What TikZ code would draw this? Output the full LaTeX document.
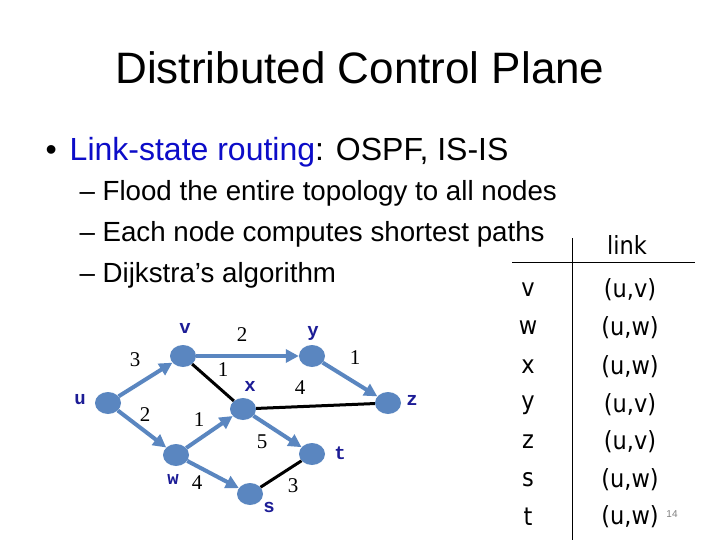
\documentclass[tikz,border=0pt]{standalone}
\usepackage{fontspec}
\setmainfont{Liberation Sans}
\newfontfamily\monof{Liberation Mono}
\newfontfamily\serf{Liberation Serif}
\newfontfamily\tabf{DejaVu Sans Condensed}
\usetikzlibrary{shapes.geometric,arrows.meta}
\definecolor{edgeblue}{HTML}{5A86C0}
\definecolor{labnavy}{HTML}{1C1C96}
\definecolor{linkblue}{HTML}{0C0CC8}
\begin{document}
\begin{tikzpicture}[x=1pt,y=-1pt,
  rnode/.style={ellipse,fill=edgeblue,minimum width=26pt,minimum height=22pt,inner sep=0pt},
  nlab/.style={font=\monof\bfseries\fontsize{19}{19}\selectfont,text=labnavy},
  wlab/.style={font=\serf\fontsize{21}{21}\selectfont},
  barc/.style={edgeblue,line width=4pt,-{Triangle[length=13pt,width=13pt]}},
  blk/.style={black,line width=3pt},
  tab/.style={font=\tabf\fontsize{25}{25}\selectfont},
  subitem/.style={anchor=base west,font=\fontsize{27.7}{27.7}\selectfont}]
\fill[white] (0,0) rectangle (720,540);
\useasboundingbox (0,0) rectangle (720,540);
% title and text
\node[font=\fontsize{44}{44}\selectfont] (title) at (360,68) {Distributed Control Plane};
\node[anchor=base west,font=\fontsize{32}{32}\selectfont] (b1) at (42,161) {\textbullet\hspace{13pt}\textcolor{linkblue}{Link-state routing}: OSPF, IS-IS};
\node[subitem] (s1) at (76,201) {-- Flood the entire topology to all nodes};
\node[subitem] (s2) at (76,241) {-- Each node computes shortest paths};
\node[subitem] (s3) at (76,282) {-- Dijkstra's algorithm};
% graph nodes
\node[rnode] (u) at (108,403) {};
\node[rnode] (v) at (183,356) {};
\node[rnode] (y) at (312,356) {};
\node[rnode] (x) at (243,409) {};
\node[rnode] (z) at (388,403) {};
\node[rnode] (w) at (176,455) {};
\node[rnode] (t) at (312,454) {};
\node[rnode] (s) at (250,494) {};
% edges
\draw[blk] (v) -- (x);
\draw[blk] (x) -- (z);
\draw[blk] (s) -- (t);
\draw[barc] (u) -- (v);
\draw[barc] (u) -- (w);
\draw[barc] (v) -- (y);
\draw[barc] (y) -- (z);
\draw[barc] (w) -- (x);
\draw[barc] (x) -- (t);
\draw[barc] (w) -- (s);
% node labels
\node[nlab] (lu) at (80,400) {u};
\node[nlab] (lv) at (185,328) {v};
\node[nlab] (ly) at (313,333) {y};
\node[nlab] (lx) at (250,386) {x};
\node[nlab] (lz) at (412,400) {z};
\node[nlab] (lw) at (173,479) {w};
\node[nlab] (lt) at (340,453) {t};
\node[nlab] (ls) at (269,507) {s};
% weights
\node[wlab] (w1) at (135,360) {3};
\node[wlab] (w2) at (242,335) {2};
\node[wlab] (w3) at (355,358) {1};
\node[wlab] (w4) at (223,370) {1};
\node[wlab] (w5) at (300,388) {4};
\node[wlab] (w6) at (145,415) {2};
\node[wlab] (w7) at (199,420) {1};
\node[wlab] (w8) at (262,442) {5};
\node[wlab] (w9) at (197,483) {4};
\node[wlab] (w10) at (293,486) {3};
% table
\coordinate (vt) at (572,238);
\coordinate (vb) at (572,540);
\coordinate (hl) at (512,262);
\coordinate (hr) at (695,262);
\draw[line width=0.8pt] (vt) -- (vb);
\draw[line width=0.8pt] (hl) -- (hr);
\node[tab] (hd) at (627,245) {link};
\node[tab] (r1) at (528,290) {v};
\node[tab] (r2) at (528,328) {w};
\node[tab] (r3) at (528,367) {x};
\node[tab] (r4) at (528,405) {y};
\node[tab] (r5) at (528,442) {z};
\node[tab] (r6) at (528,480) {s};
\node[tab] (r7) at (528,517) {t};
\node[tab] (c1) at (630,290) {(u,v)};
\node[tab] (c2) at (630,328) {(u,w)};
\node[tab] (c3) at (630,367) {(u,w)};
\node[tab] (c4) at (630,405) {(u,v)};
\node[tab] (c5) at (630,442) {(u,v)};
\node[tab] (c6) at (630,480) {(u,w)};
\node[tab] (c7) at (630,517) {(u,w)};
\node[font=\fontsize{10}{10}\selectfont,text=gray] (pg) at (672,514) {14};
\end{tikzpicture}
\end{document}
